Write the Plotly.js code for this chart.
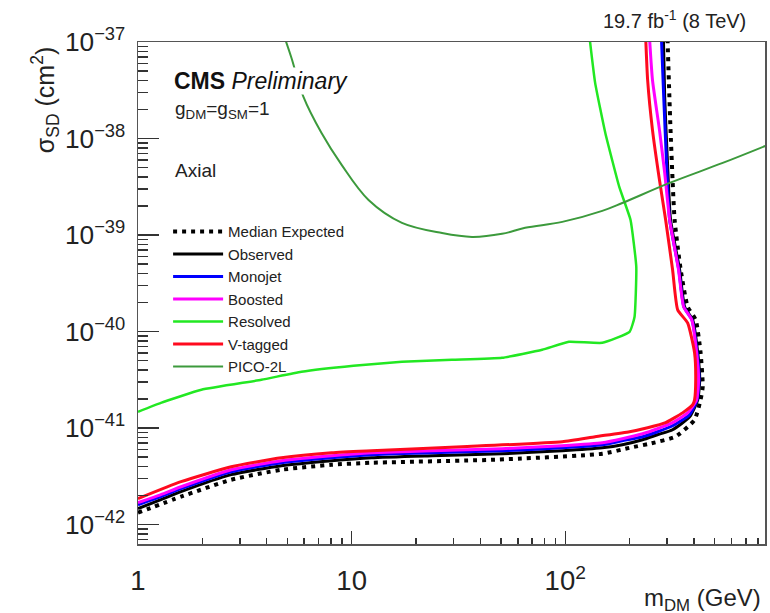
<!DOCTYPE html>
<html>
<head>
<meta charset="utf-8">
<script src="https://cdn.plot.ly/plotly-3.0.1.min.js"></script>
<style>html,body{margin:0;padding:0;background:#fff;}#chart{width:770px;height:613px;}</style>
</head>
<body>
<div id="chart"></div>
<script>
// m_DM (GeV) and sigma_SD (cm^2)
const expX = [1, 1.59, 2.73, 4.69, 8.06, 12.4, 46.9, 149, 200, 248, 328, 403, 430, 440, 430, 408, 374, 347, 325, 311, 301];
const expY = [1.33e-42, 1.95e-42, 2.92e-42, 3.71e-42, 4.18e-42, 4.38e-42, 4.71e-42, 5.43e-42, 6.26e-42, 6.90e-42, 8.15e-42, 1.22e-41, 1.97e-41, 2.69e-41, 6.04e-41, 1.32e-40, 1.81e-40, 4.37e-40, 1.44e-39, 1.23e-38, 1.1e-37];

const obsX = [1, 1.28, 1.59, 2.73, 4.69, 8.06, 12.4, 23.8, 50.6, 96.8, 149, 185, 230, 270, 318, 382, 417, 426, 417, 395, 362, 343, 311, 301, 292, 288];
const obsY = [1.47e-42, 1.82e-42, 2.20e-42, 3.30e-42, 4.08e-42, 4.60e-42, 4.94e-42, 5.18e-42, 5.43e-42, 5.83e-42, 6.26e-42, 6.73e-42, 7.59e-42, 8.55e-42, 9.62e-42, 1.31e-41, 1.97e-41, 3.17e-41, 6.04e-41, 1.32e-40, 1.81e-40, 4.37e-40, 1.44e-39, 5.59e-39, 2.70e-38, 1.1e-37];

const monoX = [1, 1.28, 1.59, 2.73, 4.69, 8.06, 12.4, 23.8, 50.6, 96.8, 149, 185, 230, 270, 318, 382, 414, 423, 414, 392, 359, 340, 308, 298, 289, 282];
const monoY = [1.61e-42, 1.95e-42, 2.36e-42, 3.54e-42, 4.38e-42, 4.94e-42, 5.31e-42, 5.56e-42, 5.83e-42, 6.26e-42, 6.73e-42, 7.41e-42, 8.15e-42, 9.18e-42, 1.06e-41, 1.38e-41, 1.97e-41, 3.17e-41, 6.04e-41, 1.32e-40, 1.81e-40, 4.37e-40, 1.44e-39, 5.59e-39, 2.70e-38, 1.1e-37];

const boostX = [1, 1.28, 1.59, 2.73, 4.69, 8.06, 12.4, 23.8, 50.6, 96.8, 149, 185, 230, 270, 318, 374, 412, 421, 412, 391, 358, 339, 308, 292, 276, 256, 248];
const boostY = [1.69e-42, 2.05e-42, 2.47e-42, 3.71e-42, 4.60e-42, 5.18e-42, 5.56e-42, 5.83e-42, 6.12e-42, 6.58e-42, 7.06e-42, 7.77e-42, 8.75e-42, 9.86e-42, 1.14e-41, 1.44e-41, 1.97e-41, 3.17e-41, 6.04e-41, 1.32e-40, 1.81e-40, 4.37e-40, 1.44e-39, 4.41e-39, 1.23e-38, 4.04e-38, 1.1e-37];

const resX = [1, 1.28, 1.98, 3.78, 5.82, 10.2, 17.2, 29.5, 50.6, 78.0, 104, 149, 200, 211, 215, 202, 179, 154, 138, 130];
const resY = [1.48e-41, 1.83e-41, 2.50e-41, 3.17e-41, 3.84e-41, 4.43e-41, 4.87e-41, 5.11e-41, 5.36e-41, 6.49e-41, 7.84e-41, 7.66e-41, 9.95e-41, 1.42e-40, 4.69e-40, 1.44e-39, 3.15e-39, 1.14e-38, 3.77e-38, 1.1e-37];

const vtagX = [1, 1.59, 2.73, 4.69, 8.06, 12.4, 32.8, 96.8, 138, 200, 243, 295, 354, 395, 403, 408, 403, 374, 336, 318, 295, 276, 256, 243, 238];
const vtagY = [1.86e-42, 2.79e-42, 3.98e-42, 4.94e-42, 5.56e-42, 5.83e-42, 6.41e-42, 7.23e-42, 8.15e-42, 9.18e-42, 1.01e-41, 1.14e-41, 1.44e-41, 1.75e-41, 1.97e-41, 3.17e-41, 6.04e-41, 1.23e-40, 1.68e-40, 4.37e-40, 1.44e-39, 3.73e-39, 1.23e-38, 4.04e-38, 1.1e-37];

const picoX = [4.9, 5.23, 5.95, 7.23, 8.98, 12.0, 17.2, 26.5, 36.6, 50.6, 64.9, 96.8, 149, 185, 308, 546, 888];
const picoY = [1.05e-37, 6.83e-38, 2.70e-38, 1.14e-38, 5.33e-39, 2.31e-39, 1.34e-39, 1.05e-39, 9.57e-40, 1.03e-39, 1.19e-39, 1.37e-39, 1.78e-39, 2.15e-39, 3.47e-39, 5.59e-39, 8.59e-39];

const FONT = 'Liberation Sans, Arial, sans-serif';
const SM = 0.5;

const traces = [
  {x: expX, y: expY, name: 'Median Expected', mode: 'lines', line: {color: '#000', width: 4, dash: '4px,5px', shape: 'spline', smoothing: SM}},
  {x: obsX, y: obsY, name: 'Observed', mode: 'lines', line: {color: '#000', width: 3, shape: 'spline', smoothing: SM}},
  {x: monoX, y: monoY, name: 'Monojet', mode: 'lines', line: {color: '#0000ff', width: 3, shape: 'spline', smoothing: SM}},
  {x: boostX, y: boostY, name: 'Boosted', mode: 'lines', line: {color: '#ff00ff', width: 3, shape: 'spline', smoothing: SM}},
  {x: resX, y: resY, name: 'Resolved', mode: 'lines', line: {color: '#22e822', width: 2.5, shape: 'spline', smoothing: 0.4}},
  {x: vtagX, y: vtagY, name: 'V-tagged', mode: 'lines', line: {color: '#ff0a1e', width: 3, shape: 'spline', smoothing: SM}},
  {x: picoX, y: picoY, name: 'PICO-2L', mode: 'lines', line: {color: '#3c9a3c', width: 2, shape: 'spline', smoothing: 1}}
];

const layout = {
  width: 770, height: 613,
  margin: {l: 138, r: 5, t: 42, b: 69},
  paper_bgcolor: '#fff', plot_bgcolor: '#fff',
  font: {family: FONT, color: '#111'},
  showlegend: true,
  legend: {
    x: 0.048, y: 0.655, xanchor: 'left', yanchor: 'top',
    bgcolor: 'rgba(255,255,255,0)', borderwidth: 0,
    font: {family: FONT, size: 15, color: '#222'},
    itemwidth: 50, tracegroupgap: 0
  },
  xaxis: {
    type: 'log', range: [0, 2.935], dtick: 1, exponentformat: 'power',
    showgrid: false, zeroline: false,
    showline: true, mirror: true, linecolor: '#555', linewidth: 1.5,
    ticks: 'inside', ticklen: 13, tickwidth: 1.5, tickcolor: '#333',
    minor: {ticks: 'inside', ticklen: 6, tickwidth: 1.5, tickcolor: '#333', showgrid: false},
    tickfont: {family: FONT, size: 22, color: '#222'},
    ticklabelstandoff: 13
  },
  yaxis: {
    type: 'log', range: [-42.2, -37], dtick: 1, exponentformat: 'power',
    showgrid: false, zeroline: false,
    showline: true, mirror: true, linecolor: '#555', linewidth: 1.5,
    ticks: 'inside', ticklen: 21, tickwidth: 1.5, tickcolor: '#333',
    minor: {ticks: 'inside', ticklen: 10, tickwidth: 1.5, tickcolor: '#333', showgrid: false},
    tickfont: {family: FONT, size: 21, color: '#222'},
    ticklabelstandoff: 7
  },
  annotations: [
    {xref: 'paper', yref: 'paper', x: 0.0558, y: 0.922, xanchor: 'left', yanchor: 'middle', showarrow: false,
     text: '<b>CMS</b> <i>Preliminary</i>', font: {family: FONT, size: 23, color: '#111'}, bgcolor: '#fff', borderpad: 0},
    {xref: 'paper', yref: 'paper', x: 0.0558, y: 0.865, xanchor: 'left', yanchor: 'middle', showarrow: false,
     text: 'g<sub>DM</sub>=g<sub>SM</sub>=1', font: {family: FONT, size: 19, color: '#222'}},
    {xref: 'paper', yref: 'paper', x: 0.0558, y: 0.745, xanchor: 'left', yanchor: 'middle', showarrow: false,
     text: 'Axial', font: {family: FONT, size: 19, color: '#222'}},
    {xref: 'paper', yref: 'paper', x: 0.973, y: 1.044, xanchor: 'right', yanchor: 'middle', showarrow: false,
     text: '19.7 fb<sup>-1</sup> (8 TeV)', font: {family: FONT, size: 20, color: '#222'}},
    {xref: 'paper', yref: 'paper', x: 0.997, y: -0.11, xanchor: 'right', yanchor: 'middle', showarrow: false,
     text: 'm<sub>DM</sub> (GeV)', font: {family: FONT, size: 24, color: '#222'}},
    {xref: 'paper', yref: 'paper', x: -0.148, y: 0.994, xanchor: 'center', yanchor: 'top', showarrow: false, textangle: -90,
     text: 'σ<sub>SD</sub> (cm<sup>2</sup>)', font: {family: FONT, size: 25, color: '#222'}}
  ]
};

Plotly.newPlot('chart', traces, layout, {displayModeBar: false, staticPlot: true});
</script>
</body>
</html>
